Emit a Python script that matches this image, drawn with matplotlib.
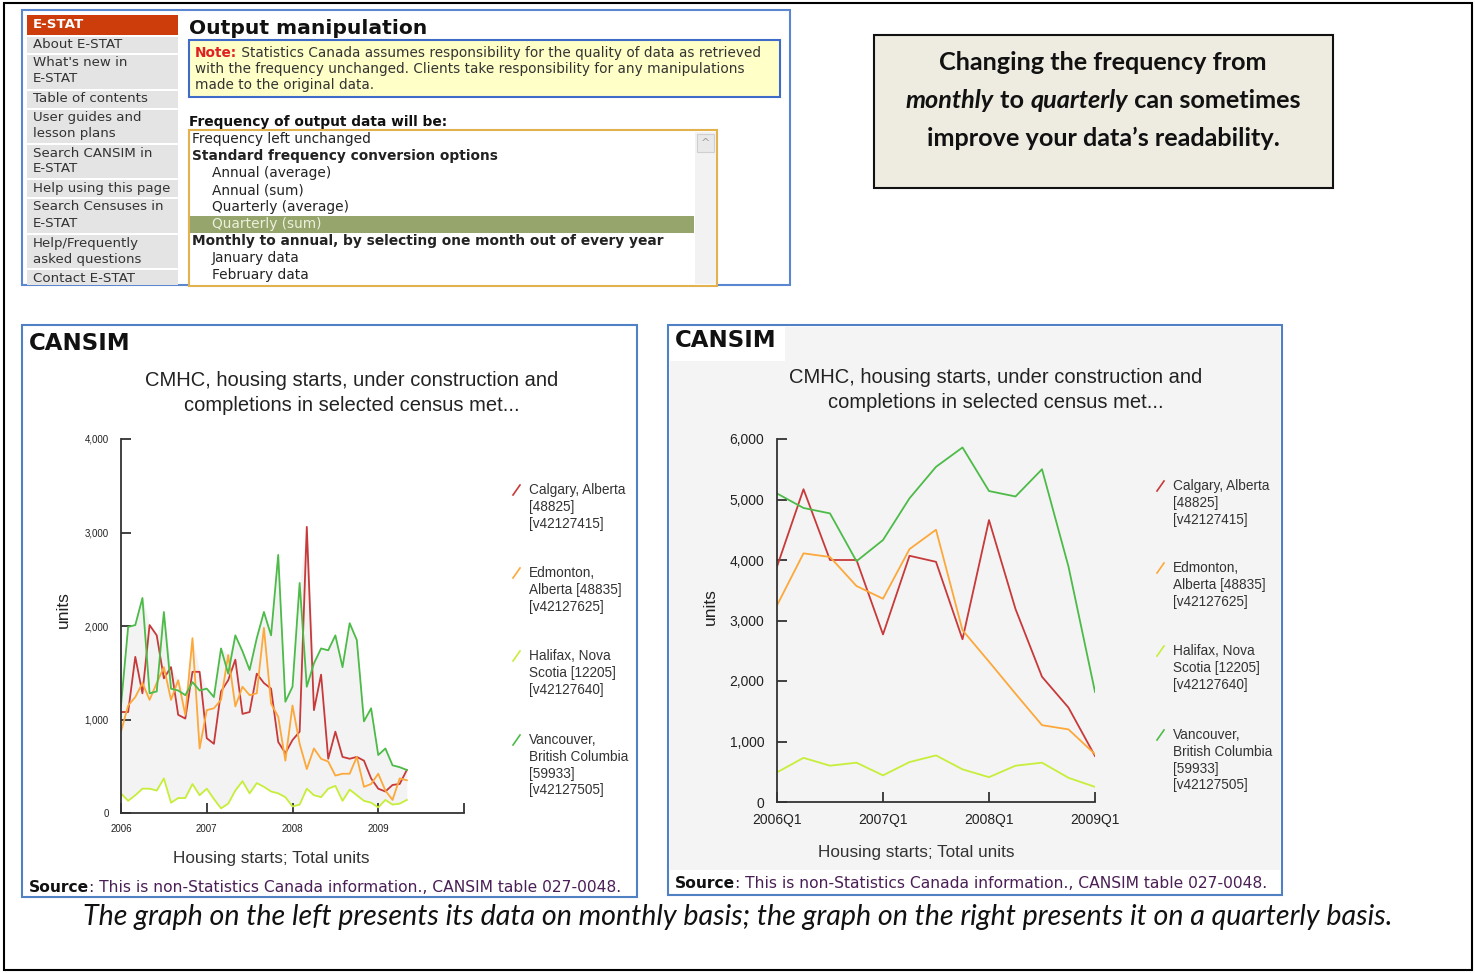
import numpy as np
import matplotlib
matplotlib.use('Agg')
import matplotlib.pyplot as plt
from matplotlib.patches import Rectangle
from matplotlib.lines import Line2D

# ---- data ----
series_names = ['Calgary', 'Edmonton', 'Halifax', 'Vancouver']
series_colors = ['#c8393a', '#fca83a', '#c6ee3a', '#4cbb48']
legend_labels = [
    ['Calgary, Alberta', '[48825]', '[v42127415]'],
    ['Edmonton,', 'Alberta [48835]', '[v42127625]'],
    ['Halifax, Nova', 'Scotia [12205]', '[v42127640]'],
    ['Vancouver,', 'British Columbia', '[59933]', '[v42127505]'],
]

# monthly, Jan 2006 .. May 2009
calgary_m = [1080, 1080, 1670, 1280, 2010, 1900, 1440, 1560, 1050, 1010, 1510, 1510,
             800, 740, 1300, 1420, 1640, 1060, 1080, 1490, 1390, 1330, 760, 640,
             780, 870, 3060, 1100, 1480, 580, 870, 600, 580, 600, 560, 370,
             260, 230, 300, 310, 460]
edmonton_m = [870, 1150, 1240, 1390, 1210, 1390, 1560, 1210, 1420, 1050, 1870, 690,
              1100, 1120, 1210, 1690, 1140, 1350, 1260, 1280, 1980, 1170, 1030, 560,
              1150, 740, 470, 690, 580, 550, 400, 420, 420, 600, 280, 310,
              420, 240, 140, 370, 350]
halifax_m = [210, 130, 190, 260, 260, 240, 370, 110, 160, 160, 310, 190,
             260, 150, 50, 100, 240, 340, 210, 320, 280, 230, 210, 170,
             70, 90, 260, 190, 170, 260, 290, 130, 250, 190, 130, 110,
             60, 140, 90, 100, 140]
vancouver_m = [1150, 1990, 2010, 2300, 1280, 1300, 2150, 1330, 1310, 1260, 1400, 1310,
               1330, 1240, 1760, 1490, 1900, 1730, 1530, 1870, 2150, 1900, 2760, 1190,
               1350, 2460, 1350, 1600, 1760, 1740, 1900, 1560, 2030, 1850, 980, 1120,
               620, 690, 510, 490, 460]
monthly_years = ['2006', '2007', '2008', '2009']

# quarterly sums, 2006Q1 .. 2009Q1
calgary_q = [3890, 5170, 4000, 4000, 2770, 4070, 3970, 2690, 4660, 3190, 2070, 1560, 760]
edmonton_q = [3250, 4110, 4050, 3570, 3360, 4180, 4500, 2840, 2320, 1790, 1270, 1200, 790]
halifax_q = [490, 730, 600, 650, 440, 660, 770, 540, 410, 600, 650, 400, 250]
vancouver_q = [5100, 4860, 4770, 3980, 4330, 5020, 5540, 5860, 5140, 5050, 5500, 3890, 1820]
quarter_labels = ['2006Q1', '2007Q1', '2008Q1', '2009Q1']

nav_items = [['About E-STAT'], ["What's new in", 'E-STAT'], ['Table of contents'],
             ['User guides and', 'lesson plans'], ['Search CANSIM in', 'E-STAT'],
             ['Help using this page'], ['Search Censuses in', 'E-STAT'],
             ['Help/Frequently', 'asked questions'], ['Contact E-STAT']]
list_items = [('Frequency left unchanged', 0), ('Standard frequency conversion options', 1),
              ('Annual (average)', 2), ('Annual (sum)', 2), ('Quarterly (average)', 2),
              ('Quarterly (sum)', 3), ('Monthly to annual, by selecting one month out of every year', 1),
              ('January data', 2), ('February data', 2)]

# ---- figure in pixel coordinates ----
W, H = 1475, 973
fig = plt.figure(figsize=(W / 100, H / 100), dpi=100)
fig.patch.set_facecolor('white')
R = fig.canvas.get_renderer()

def fx(x):
    return x / W

def fy(y):
    return 1 - y / H

def rect(x0, y0, x1, y1, fc, ec='none', lw=1.0, z=-5):
    fig.add_artist(Rectangle((fx(x0), fy(y1)), (x1 - x0) / W, (y1 - y0) / H,
                             transform=fig.transFigure, fc=fc, ec=ec, lw=lw, zorder=z))

def txt(x, y, s, **kw):
    kw.setdefault('va', 'center')
    return fig.text(fx(x), fy(y), s, **kw)

def run(x, y, parts, center=False, **common):
    # parts drawn one after another on a line
    widths = []
    for s, kw in parts:
        t = fig.text(0, 0, s, **common, **kw)
        widths.append(t.get_window_extent(R).width)
        t.remove()
    if center:
        x = x - sum(widths) / 2
    for (s, kw), w in zip(parts, widths):
        txt(x, y, s, **common, **kw)
        x += w

UI = 'DejaVu Sans'
CH = 'Liberation Sans'

# outer border
rect(4, 3, 1472, 970, 'none', ec='black', lw=1.5, z=10)

# ---- top-left screenshot panel ----
rect(22, 10, 790, 285, 'white', ec='#5b86d0', lw=1.5)
rect(27, 15, 178, 35, '#cc3d0b', z=-4)
txt(33, 25, 'E-STAT', color='white', fontsize=9.6, fontweight='bold', family=UI)
row_tops = [37, 55, 91, 110, 145, 180, 199, 235, 270]
row_bots = [53, 89, 108, 143, 178, 197, 233, 268, 285]
for item, t0, t1 in zip(nav_items, row_tops, row_bots):
    rect(27, t0, 178, t1, '#e4e4e4', z=-4)
    for k, line in enumerate(item):
        txt(33, t0 + 8 + 16 * k, line, color='#333333', fontsize=9.6, family=UI)

txt(189, 28, 'Output manipulation', fontsize=14.6, fontweight='bold', family=UI, color='#111111')
rect(189, 40, 780, 97, '#ffffc8', ec='#3f6cc8', lw=1.5, z=-4)
NOTE = dict(fontsize=9.8, family=UI)
run(195, 53, [('Note:', dict(color='#e02020', fontweight='bold')),
              (' Statistics Canada assumes responsibility for the quality of data as retrieved',
               dict(color='#333333'))], **NOTE)
txt(195, 69, 'with the frequency unchanged. Clients take responsibility for any manipulations',
    color='#333333', **NOTE)
txt(195, 85, 'made to the original data.', color='#333333', **NOTE)

txt(189, 122, 'Frequency of output data will be:', fontsize=9.9, fontweight='bold', family=UI,
    color='#111111')
rect(189, 130, 717, 286, 'white', ec='#e2b24e', lw=1.5, z=-4)
rect(695, 132, 716, 284, '#f2f2f2', z=-3)
rect(697, 134, 714, 152, '#e9e9e9', ec='#cfcfcf', lw=0.8, z=-2)
txt(705.5, 143, '^', ha='center', fontsize=8, color='#999999', family=UI)
for k, (s, kind) in enumerate(list_items):
    yy = 139 + 17 * k
    if kind == 3:
        rect(190, yy - 8, 694, yy + 9, '#95a56c', z=-2)
    x0 = 192 if kind in (0, 1) else 212
    txt(x0, yy, s, fontsize=9.9, family=UI,
        fontweight='bold' if kind == 1 else 'normal',
        color='#eef0dc' if kind == 3 else '#222222')

# ---- top-right callout ----
rect(874, 35, 1333, 188, '#eeebe0', ec='#111111', lw=1.5)
BOX = dict(fontsize=18.2, family='Lato', fontweight='bold', color='#111111')
run(1103, 63, [('Changing the frequency from', {})], center=True, **BOX)
run(1103, 100, [('monthly', dict(style='italic')), (' to ', {}), ('quarterly', dict(style='italic')),
                (' can sometimes', {})], center=True, **BOX)
run(1103, 138, [('improve your data\u2019s readability.', {})], center=True, **BOX)

# ---- chart panels ----
rect(22, 325, 637, 897, 'white', ec='#4f81c4', lw=1.5)
rect(668, 325, 1282, 895, 'white', ec='#4f81c4', lw=1.5)
rect(670, 361, 1280, 870, '#f4f4f4', z=-4)
rect(785, 327, 1280, 361, '#f4f4f4', z=-4)

title = 'CMHC, housing starts, under construction and\ncompletions in selected census met...'
src_parts = [('Source', dict(fontweight='bold', color='#111111')),
             (': This is non-Statistics Canada information., CANSIM table 027-0048.',
              dict(color='#4a1f55'))]


def style_axes(ax, fs):
    ax.set_facecolor('none')
    for s in ['top', 'right']:
        ax.spines[s].set_visible(False)
    for s in ['left', 'bottom']:
        ax.spines[s].set_color('#333333')
        ax.spines[s].set_linewidth(1.3)
    ax.tick_params(direction='in', length=7, width=1.3, color='#333333',
                   labelsize=fs, labelcolor='#222222', pad=9)
    for lab in ax.get_xticklabels() + ax.get_yticklabels():
        lab.set_family(CH)
    ax.set_yticklabels(['{:,}'.format(int(v)) if v else '0' for v in ax.get_yticks()])


# left: monthly
txt(29, 343, 'CANSIM', fontsize=16.5, fontweight='bold', family=UI, color='#111111')
txt(352, 393, title, ha='center', fontsize=14.5, family=CH, color='#222222', linespacing=1.4)
axL = fig.add_axes([fx(121), fy(813), (464 - 121) / W, (813 - 439) / H])
mx = np.arange(len(calgary_m))
monthly = [calgary_m, edmonton_m, halifax_m, vancouver_m]
axL.fill_between(mx, np.min(monthly, axis=0), np.max(monthly, axis=0),
                 color='#f3f3f3', lw=0, zorder=0)
for vals, c in zip(monthly, series_colors):
    axL.plot(mx, vals, color=c, lw=1.3, zorder=2)
axL.set_xlim(0, 48)
axL.set_ylim(0, 4000)
axL.set_xticks([0, 12, 24, 36, 48])
axL.set_xticklabels(monthly_years + [''])
axL.set_yticks([0, 1000, 2000, 3000, 4000])
style_axes(axL, 7)
axL.tick_params(axis='x', pad=8)
txt(63, 610, 'units', rotation=90, ha='center', fontsize=12.5, family=CH, color='#222222')
txt(271, 858, 'Housing starts; Total units', ha='center', fontsize=12.3, family=CH, color='#333333')
run(29, 887, src_parts, fontsize=11.2, family=UI)

# right: quarterly
txt(675, 340, 'CANSIM', fontsize=16.5, fontweight='bold', family=UI, color='#111111')
txt(996, 390, title, ha='center', fontsize=14.5, family=CH, color='#222222', linespacing=1.4)
axR = fig.add_axes([fx(777), fy(802), (1095 - 777) / W, (802 - 439) / H])
qx = np.arange(len(calgary_q))
for vals, c in zip([calgary_q, edmonton_q, halifax_q, vancouver_q], series_colors):
    axR.plot(qx, vals, color=c, lw=1.3)
axR.set_xlim(0, 12)
axR.set_ylim(0, 6000)
axR.set_xticks([0, 4, 8, 12])
axR.set_xticklabels(quarter_labels)
axR.set_yticks(np.arange(0, 6001, 1000))
style_axes(axR, 10)
axR.tick_params(axis='x', pad=8)
txt(710, 607, 'units', rotation=90, ha='center', fontsize=12.5, family=CH, color='#222222')
txt(916, 852, 'Housing starts; Total units', ha='center', fontsize=12.3, family=CH, color='#333333')
run(675, 884, src_parts, fontsize=11.2, family=UI)

# legends
for lx, tops in [(513, [490, 573, 656, 740]), (1157, [486, 568, 651, 735])]:
    for lines, c, y0 in zip(legend_labels, series_colors, tops):
        fig.add_artist(Line2D([fx(lx), fx(lx + 7)], [fy(y0 + 5), fy(y0 - 5)], color=c, lw=1.2,
                              transform=fig.transFigure))
        for k, line in enumerate(lines):
            txt(lx + 16, y0 + 16.8 * k, line, fontsize=9.8, family=CH, color='#333333')

# caption
txt(738, 917, 'The graph on the left presents its data on monthly basis; the graph on the right '
    'presents it on a quarterly basis.', ha='center', fontsize=20.6, style='italic',
    family='Lato', color='#111111')

fig.savefig('out.png', dpi=100)
